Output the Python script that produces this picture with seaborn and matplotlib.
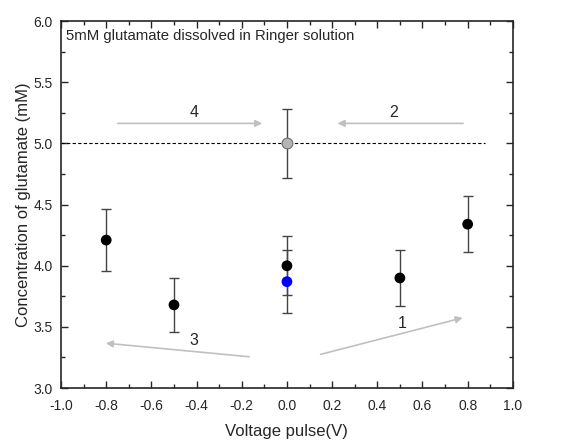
import matplotlib
matplotlib.use("Agg")
import matplotlib.pyplot as plt
from matplotlib.ticker import MultipleLocator
import seaborn as sns
import pandas as pd

# Data
black_x = [-0.8, -0.5, 0.0, 0.5, 0.8]
black_y = [4.21, 3.68, 4.00, 3.90, 4.34]
black_err = [0.25, 0.22, 0.24, 0.23, 0.23]
blue_x = [0.0]
blue_y = [3.87]
blue_err = [0.26]
gray_x = [0.0]
gray_y = [5.0]
gray_err = [0.28]
ref_level = 5.0
arrow_labels = ["1", "2", "3", "4"]

sns.set_style("ticks")
plt.rcParams['font.family'] = ['Liberation Sans', 'DejaVu Sans']

fig = plt.figure(figsize=(5.73, 4.4), dpi=100)
ax = fig.add_axes([0.1065, 0.118, 0.7885, 0.834])

ax.plot([-1, 0.875], [ref_level, ref_level], ls=(0, (3, 2)), color='black', lw=0.8, zorder=1)

for xs, ys, es in [(black_x, black_y, black_err), (blue_x, blue_y, blue_err), (gray_x, gray_y, gray_err)]:
    ax.errorbar(xs, ys, yerr=es, fmt='none', ecolor='#444444', elinewidth=1.0,
                capsize=3.5, capthick=1.0, zorder=2)

df = pd.concat([
    pd.DataFrame({"x": black_x, "y": black_y, "g": "black"}),
    pd.DataFrame({"x": blue_x, "y": blue_y, "g": "blue"}),
    pd.DataFrame({"x": gray_x, "y": gray_y, "g": "gray"}),
])
sns.scatterplot(data=df, x="x", y="y", hue="g",
                palette={"black": "black", "blue": "#0000ff", "gray": "#b4b4b4"},
                s=60, edgecolor=None, linewidth=0, legend=False, ax=ax, zorder=3)
ax.scatter(gray_x, gray_y, s=60, facecolor='#b4b4b4', edgecolor='#707070', linewidth=0.8, zorder=4)

arr = dict(arrowstyle='-|>', color='#c0c0c0', lw=1.2, mutation_scale=10)
arrows = [((0.137, 3.27), (0.79, 3.58), (0.51, 3.53), arrow_labels[0]),
          ((0.792, 5.164), (0.212, 5.164), (0.473, 5.25), arrow_labels[1]),
          ((-0.155, 3.254), (-0.814, 3.369), (-0.41, 3.39), arrow_labels[2]),
          ((-0.761, 5.164), (-0.097, 5.164), (-0.41, 5.25), arrow_labels[3])]
for s, e, lp, lab in arrows:
    ax.annotate("", xy=e, xytext=s, arrowprops=arr, zorder=1)
    ax.text(lp[0], lp[1], lab, ha='center', va='center', fontsize=11.5)

ax.text(-0.98, 5.88, "5mM glutamate dissolved in Ringer solution", ha='left', va='center', fontsize=10.7)

ax.set_xlim(-1.0, 1.0)
ax.set_ylim(3.0, 6.0)
ax.xaxis.set_major_locator(MultipleLocator(0.2))
ax.xaxis.set_minor_locator(MultipleLocator(0.1))
ax.yaxis.set_major_locator(MultipleLocator(0.5))
ax.yaxis.set_minor_locator(MultipleLocator(0.25))
ax.set_xticklabels([f"{v:.1f}" for v in ax.get_xticks()])
ax.set_yticklabels([f"{v:.1f}" for v in ax.get_yticks()])
ax.tick_params(which='both', direction='in', top=True, right=True, labelsize=10, width=1)
ax.tick_params(which='major', length=5)
ax.tick_params(which='minor', length=3)
ax.tick_params(axis='x', which='major', pad=8)
ax.tick_params(axis='y', which='major', pad=6)
for sp in ax.spines.values():
    sp.set_linewidth(1.2)
    sp.set_visible(True)
ax.set_xlabel("Voltage pulse(V)", fontsize=12, labelpad=8)
ax.set_ylabel("Concentration of glutamate (mM)", fontsize=12, labelpad=2)

fig.savefig("out.png", dpi=100)
